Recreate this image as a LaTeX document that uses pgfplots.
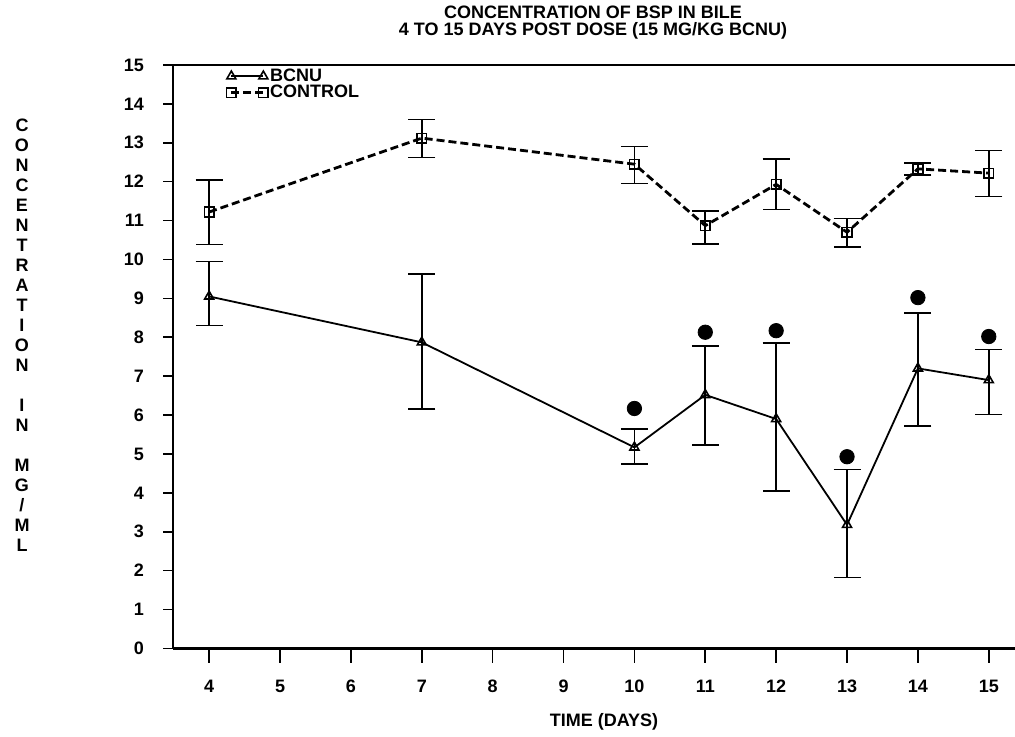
\documentclass[border=0pt]{standalone}
\usepackage{fontspec}
\setmainfont{Liberation Sans}
\usepackage{pgfplots}
\usepackage{pgfplotstable}
\pgfplotsset{compat=1.18}
\pgfplotstableread{
x y ep em
4 9.05 0.90 0.75
7 7.87 1.75 1.72
10 5.17 0.47 0.43
11 6.52 1.26 1.29
12 5.90 1.95 1.85
13 3.18 1.42 1.36
14 7.20 1.42 1.48
15 6.90 0.79 0.88
}\bcnu
\pgfplotstableread{
x y ep em
4 11.22 0.83 0.83
7 13.12 0.48 0.50
10 12.45 0.45 0.50
11 10.87 0.38 0.47
12 11.93 0.65 0.65
13 10.70 0.35 0.38
14 12.33 0.15 0.16
15 12.22 0.58 0.60
}\control
\pgfplotstableread{
x y
10 6.17
11 8.13
12 8.17
13 4.93
14 9.02
15 8.02
}\signif
\begin{document}
\begin{tikzpicture}[font=\fontsize{9}{10}\selectfont\bfseries]
\begin{axis}[
  at={(86.5pt,44.25pt)}, anchor=south west,
  width=421pt, height=291.75pt, scale only axis,
  xmin=3.49, xmax=15.37, ymin=0, ymax=15,
  axis x line*=bottom, axis y line*=left,
  x axis line style={line width=1.4pt},
  y axis line style={line width=1pt},
  clip=false,
  xtick={4,...,15}, ytick={0,...,15},
  tick align=outside, major tick length=5pt,
  tick style={black, line width=0.8pt},
  x tick style={/pgfplots/major tick length=7pt},
  /pgf/number format/assume math mode=true,
  ticklabel style={font=\fontsize{9}{10}\selectfont\bfseries},
  xticklabel style={anchor=north, text height=6.5pt, text depth=0pt, yshift=-7pt},
  yticklabel style={xshift=-6pt},
  legend cell align=left,
  legend style={at={(0.056,1.005)}, anchor=north west, draw=none, fill=none,
    font=\fontsize{9}{10}\selectfont\bfseries, row sep=-1.5pt,
    nodes={inner sep=1pt}},
  legend image code/.code={\draw[#1] plot coordinates {(0pt,0pt) (16pt,0pt)};},
]
\addplot[black, line width=0.9pt, mark=triangle, mark size=2.6pt,
  mark options={solid, fill=white, line width=0.8pt},
  error bars/.cd, y dir=both, y explicit,
  error bar style={solid, line width=0.8pt},
  error mark options={solid, line width=0.8pt, mark size=6.75pt, rotate=90}]
  table[x=x, y=y, y error plus=ep, y error minus=em] {\bcnu};
\addlegendentry{BCNU}
\addplot[black, line width=1.4pt, dash pattern=on 4pt off 2pt, mark=square, mark size=2.4pt,
  mark options={solid, fill=white, line width=0.8pt},
  error bars/.cd, y dir=both, y explicit,
  error bar style={solid, line width=0.8pt},
  error mark options={solid, line width=0.8pt, mark size=6.75pt, rotate=90}]
  table[x=x, y=y, y error plus=ep, y error minus=em] {\control};
\addlegendentry{CONTROL}
\addplot[only marks, mark=*, mark size=3.6pt, black, forget plot] table[x=x, y=y] {\signif};
\draw[line width=1pt] (rel axis cs:0,1) -- (rel axis cs:1,1);
\end{axis}
\node at (296.5pt,362.3pt) {CONCENTRATION OF BSP IN BILE};
\node at (296.5pt,353pt) {4 TO 15 DAYS POST DOSE (15 MG/KG BCNU)};
\node at (302pt,7.5pt) {TIME (DAYS)};
\node[align=center, font=\fontsize{9}{10}\selectfont\bfseries] at (11pt,201pt)
  {C\\O\\N\\C\\E\\N\\T\\R\\A\\T\\I\\O\\N\\\mbox{}\\I\\N\\\mbox{}\\M\\G\\/\\M\\L};
\pgfresetboundingbox
\path (0,0) rectangle (507.5pt,368.5pt);
\end{tikzpicture}
\end{document}
